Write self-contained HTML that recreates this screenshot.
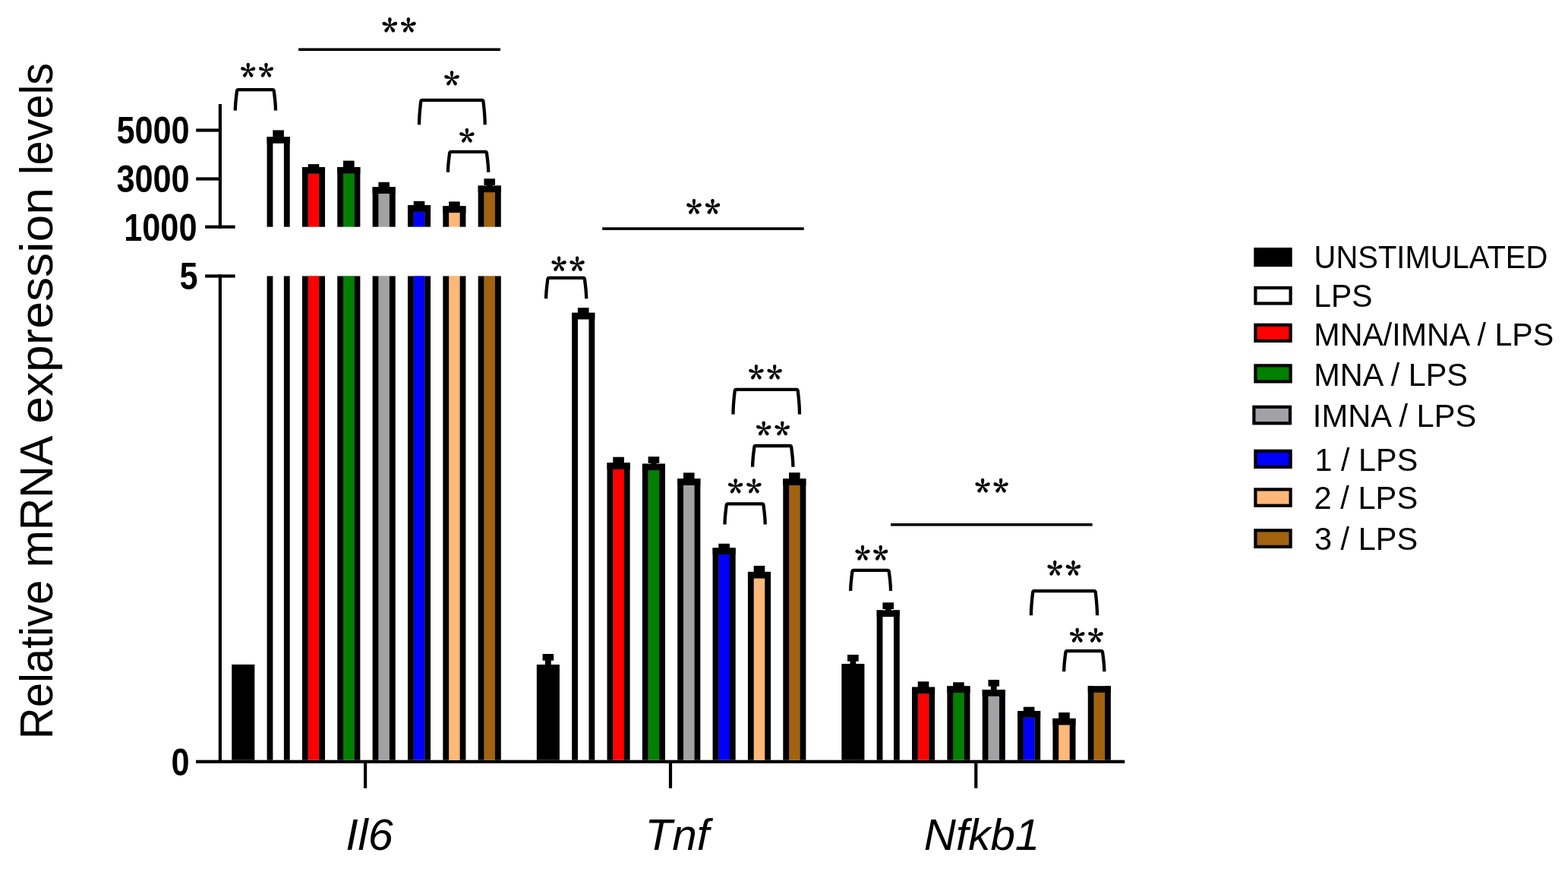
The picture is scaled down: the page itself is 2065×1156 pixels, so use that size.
<!DOCTYPE html>
<html><head><meta charset="utf-8"><title>Relative mRNA expression levels</title>
<style>html,body{margin:0;padding:0;background:#fff;}svg{display:block;}text{fill:#000;}</style>
</head><body>
<svg width="2065" height="1156" viewBox="0 0 2065 1156">
<rect width="2065" height="1156" fill="#fff"/>
<rect x="287.8" y="137" width="4.2" height="163.8" fill="#000"/>
<rect x="287.8" y="361.4" width="4.2" height="643.6" fill="#000"/>
<rect x="258.2" y="169.4" width="31.7" height="4.2" fill="#000"/>
<rect x="258.2" y="233.4" width="31.7" height="4.2" fill="#000"/>
<rect x="270.1" y="296.6" width="39.5" height="4.2" fill="#000"/>
<rect x="270.1" y="361.4" width="39.5" height="4.2" fill="#000"/>
<rect x="258.1" y="1000.7" width="1223.1" height="4.3" fill="#000"/>
<rect x="479" y="1003" width="4.2" height="34.8" fill="#000"/>
<rect x="880.9" y="1003" width="4.2" height="34.8" fill="#000"/>
<rect x="1283.2" y="1003" width="4.2" height="34.8" fill="#000"/>
<rect x="305.22" y="874.9" width="30.1" height="125.8" fill="#000"/>
<rect x="351.57" y="180.1" width="7.8" height="118.6" fill="#000"/>
<rect x="373.88" y="180.1" width="7.8" height="118.6" fill="#000"/>
<rect x="351.57" y="180.1" width="30.1" height="8.7" fill="#000"/>
<rect x="351.57" y="363.5" width="7.8" height="637.2" fill="#000"/>
<rect x="373.88" y="363.5" width="7.8" height="637.2" fill="#000"/>
<rect x="359.32" y="171.4" width="14.6" height="8.7" fill="#000"/>
<rect x="405.53" y="228.6" width="14.9" height="70.1" fill="#ff0000"/>
<rect x="397.93" y="220.1" width="7.8" height="78.6" fill="#000"/>
<rect x="420.23" y="220.1" width="7.8" height="78.6" fill="#000"/>
<rect x="397.93" y="220.1" width="30.1" height="8.7" fill="#000"/>
<rect x="405.53" y="363.3" width="14.9" height="637.4" fill="#ff0000"/>
<rect x="397.93" y="363.5" width="7.8" height="637.2" fill="#000"/>
<rect x="420.23" y="363.5" width="7.8" height="637.2" fill="#000"/>
<rect x="405.68" y="216.1" width="14.6" height="8.7" fill="#000"/>
<rect x="451.88" y="228.5" width="14.9" height="70.2" fill="#008000"/>
<rect x="444.27" y="220" width="7.8" height="78.7" fill="#000"/>
<rect x="466.57" y="220" width="7.8" height="78.7" fill="#000"/>
<rect x="444.27" y="220" width="30.1" height="8.7" fill="#000"/>
<rect x="451.88" y="363.3" width="14.9" height="637.4" fill="#008000"/>
<rect x="444.27" y="363.5" width="7.8" height="637.2" fill="#000"/>
<rect x="466.57" y="363.5" width="7.8" height="637.2" fill="#000"/>
<rect x="452.02" y="211.6" width="14.6" height="8.7" fill="#000"/>
<rect x="498.23" y="254.8" width="14.9" height="43.9" fill="#a2a2a6"/>
<rect x="490.62" y="246.3" width="7.8" height="52.4" fill="#000"/>
<rect x="512.93" y="246.3" width="7.8" height="52.4" fill="#000"/>
<rect x="490.62" y="246.3" width="30.1" height="8.7" fill="#000"/>
<rect x="498.23" y="363.3" width="14.9" height="637.4" fill="#a2a2a6"/>
<rect x="490.62" y="363.5" width="7.8" height="637.2" fill="#000"/>
<rect x="512.93" y="363.5" width="7.8" height="637.2" fill="#000"/>
<rect x="498.38" y="239.8" width="14.6" height="8.7" fill="#000"/>
<rect x="544.57" y="278.7" width="14.9" height="20" fill="#0000ff"/>
<rect x="536.98" y="270.2" width="7.8" height="28.5" fill="#000"/>
<rect x="559.28" y="270.2" width="7.8" height="28.5" fill="#000"/>
<rect x="536.98" y="270.2" width="30.1" height="8.7" fill="#000"/>
<rect x="544.57" y="363.3" width="14.9" height="637.4" fill="#0000ff"/>
<rect x="536.98" y="363.5" width="7.8" height="637.2" fill="#000"/>
<rect x="559.28" y="363.5" width="7.8" height="637.2" fill="#000"/>
<rect x="544.73" y="264.8" width="14.6" height="8.7" fill="#000"/>
<rect x="590.92" y="279.9" width="14.9" height="18.8" fill="#ffb878"/>
<rect x="583.33" y="271.4" width="7.8" height="27.3" fill="#000"/>
<rect x="605.63" y="271.4" width="7.8" height="27.3" fill="#000"/>
<rect x="583.33" y="271.4" width="30.1" height="8.7" fill="#000"/>
<rect x="590.92" y="363.3" width="14.9" height="637.4" fill="#ffb878"/>
<rect x="583.33" y="363.5" width="7.8" height="637.2" fill="#000"/>
<rect x="605.63" y="363.5" width="7.8" height="637.2" fill="#000"/>
<rect x="591.08" y="265.4" width="14.6" height="8.7" fill="#000"/>
<rect x="637.27" y="253" width="14.9" height="45.7" fill="#a2620f"/>
<rect x="629.68" y="244.5" width="7.8" height="54.2" fill="#000"/>
<rect x="651.98" y="244.5" width="7.8" height="54.2" fill="#000"/>
<rect x="629.68" y="244.5" width="30.1" height="8.7" fill="#000"/>
<rect x="637.27" y="363.3" width="14.9" height="637.4" fill="#a2620f"/>
<rect x="629.68" y="363.5" width="7.8" height="637.2" fill="#000"/>
<rect x="651.98" y="363.5" width="7.8" height="637.2" fill="#000"/>
<rect x="637.43" y="235.2" width="14.6" height="8.7" fill="#000"/>
<rect x="640.83" y="243.4" width="7.8" height="1.6" fill="#000"/>
<rect x="706.83" y="875" width="30.1" height="125.7" fill="#000"/>
<rect x="714.58" y="861" width="14.6" height="8.7" fill="#000"/>
<rect x="717.98" y="869.2" width="7.8" height="6.3" fill="#000"/>
<rect x="753.18" y="411.8" width="7.8" height="588.9" fill="#000"/>
<rect x="775.48" y="411.8" width="7.8" height="588.9" fill="#000"/>
<rect x="753.18" y="411.8" width="30.1" height="8.7" fill="#000"/>
<rect x="760.93" y="405.2" width="14.6" height="8.7" fill="#000"/>
<rect x="807.12" y="617.8" width="14.9" height="382.9" fill="#ff0000"/>
<rect x="799.53" y="609.3" width="7.8" height="391.4" fill="#000"/>
<rect x="821.83" y="609.3" width="7.8" height="391.4" fill="#000"/>
<rect x="799.53" y="609.3" width="30.1" height="8.7" fill="#000"/>
<rect x="807.28" y="601.7" width="14.6" height="8.7" fill="#000"/>
<rect x="853.48" y="619.2" width="14.9" height="381.5" fill="#008000"/>
<rect x="845.88" y="610.7" width="7.8" height="390" fill="#000"/>
<rect x="868.18" y="610.7" width="7.8" height="390" fill="#000"/>
<rect x="845.88" y="610.7" width="30.1" height="8.7" fill="#000"/>
<rect x="853.63" y="601.2" width="14.6" height="8.7" fill="#000"/>
<rect x="857.03" y="609.4" width="7.8" height="1.8" fill="#000"/>
<rect x="899.82" y="638.8" width="14.9" height="361.9" fill="#a2a2a6"/>
<rect x="892.23" y="630.3" width="7.8" height="370.4" fill="#000"/>
<rect x="914.53" y="630.3" width="7.8" height="370.4" fill="#000"/>
<rect x="892.23" y="630.3" width="30.1" height="8.7" fill="#000"/>
<rect x="899.98" y="622.4" width="14.6" height="8.7" fill="#000"/>
<rect x="946.17" y="729.9" width="14.9" height="270.8" fill="#0000ff"/>
<rect x="938.58" y="721.4" width="7.8" height="279.3" fill="#000"/>
<rect x="960.88" y="721.4" width="7.8" height="279.3" fill="#000"/>
<rect x="938.58" y="721.4" width="30.1" height="8.7" fill="#000"/>
<rect x="946.33" y="715.8" width="14.6" height="8.7" fill="#000"/>
<rect x="992.52" y="761.4" width="14.9" height="239.3" fill="#ffb878"/>
<rect x="984.93" y="752.9" width="7.8" height="247.8" fill="#000"/>
<rect x="1007.23" y="752.9" width="7.8" height="247.8" fill="#000"/>
<rect x="984.93" y="752.9" width="30.1" height="8.7" fill="#000"/>
<rect x="992.68" y="744.9" width="14.6" height="8.7" fill="#000"/>
<rect x="1038.88" y="638.8" width="14.9" height="361.9" fill="#a2620f"/>
<rect x="1031.28" y="630.3" width="7.8" height="370.4" fill="#000"/>
<rect x="1053.58" y="630.3" width="7.8" height="370.4" fill="#000"/>
<rect x="1031.28" y="630.3" width="30.1" height="8.7" fill="#000"/>
<rect x="1039.03" y="622.2" width="14.6" height="8.7" fill="#000"/>
<rect x="1108.33" y="874" width="30.1" height="126.7" fill="#000"/>
<rect x="1116.08" y="862" width="14.6" height="8.7" fill="#000"/>
<rect x="1119.47" y="870.2" width="7.8" height="4.3" fill="#000"/>
<rect x="1154.67" y="803.4" width="7.8" height="197.3" fill="#000"/>
<rect x="1176.97" y="803.4" width="7.8" height="197.3" fill="#000"/>
<rect x="1154.67" y="803.4" width="30.1" height="8.7" fill="#000"/>
<rect x="1162.42" y="793.3" width="14.6" height="8.7" fill="#000"/>
<rect x="1165.82" y="801.5" width="7.8" height="2.4" fill="#000"/>
<rect x="1208.62" y="913.2" width="14.9" height="87.5" fill="#ff0000"/>
<rect x="1201.02" y="904.7" width="7.8" height="96" fill="#000"/>
<rect x="1223.32" y="904.7" width="7.8" height="96" fill="#000"/>
<rect x="1201.02" y="904.7" width="30.1" height="8.7" fill="#000"/>
<rect x="1208.77" y="897.3" width="14.6" height="8.7" fill="#000"/>
<rect x="1254.97" y="911.9" width="14.9" height="88.8" fill="#008000"/>
<rect x="1247.38" y="903.4" width="7.8" height="97.3" fill="#000"/>
<rect x="1269.67" y="903.4" width="7.8" height="97.3" fill="#000"/>
<rect x="1247.38" y="903.4" width="30.1" height="8.7" fill="#000"/>
<rect x="1255.12" y="898.3" width="14.6" height="8.7" fill="#000"/>
<rect x="1301.32" y="916.6" width="14.9" height="84.1" fill="#a2a2a6"/>
<rect x="1293.72" y="908.1" width="7.8" height="92.6" fill="#000"/>
<rect x="1316.02" y="908.1" width="7.8" height="92.6" fill="#000"/>
<rect x="1293.72" y="908.1" width="30.1" height="8.7" fill="#000"/>
<rect x="1301.47" y="895" width="14.6" height="8.7" fill="#000"/>
<rect x="1304.87" y="903.2" width="7.8" height="5.4" fill="#000"/>
<rect x="1347.67" y="944.6" width="14.9" height="56.1" fill="#0000ff"/>
<rect x="1340.08" y="936.1" width="7.8" height="64.6" fill="#000"/>
<rect x="1362.38" y="936.1" width="7.8" height="64.6" fill="#000"/>
<rect x="1340.08" y="936.1" width="30.1" height="8.7" fill="#000"/>
<rect x="1347.83" y="930.7" width="14.6" height="8.7" fill="#000"/>
<rect x="1394.02" y="954.4" width="14.9" height="46.3" fill="#ffb878"/>
<rect x="1386.42" y="945.9" width="7.8" height="54.8" fill="#000"/>
<rect x="1408.72" y="945.9" width="7.8" height="54.8" fill="#000"/>
<rect x="1386.42" y="945.9" width="30.1" height="8.7" fill="#000"/>
<rect x="1394.17" y="938.1" width="14.6" height="8.7" fill="#000"/>
<rect x="1440.37" y="911.7" width="14.9" height="89" fill="#a2620f"/>
<rect x="1432.77" y="903.2" width="7.8" height="97.5" fill="#000"/>
<rect x="1455.07" y="903.2" width="7.8" height="97.5" fill="#000"/>
<rect x="1432.77" y="903.2" width="30.1" height="8.7" fill="#000"/>
<path d="M309.8,145.6 C309.8,135.6 311.4,125.1 312,120.1 Q312.2,118.1 313.8,118.1 L359,118.1 Q360.6,118.1 360.8,120.1 C361.4,125.1 363,135.6 363,145.6" fill="none" stroke="#000" stroke-width="4.3"/>
<path d="M552,164.2 C552,154.2 553.6,138.9 554.2,133.9 Q554.4,131.9 556,131.9 L634.7,131.9 Q636.3,131.9 636.5,133.9 C637.1,138.9 638.7,154.2 638.7,164.2" fill="none" stroke="#000" stroke-width="4.3"/>
<path d="M589.9,226.7 C589.9,216.7 591.5,206.8 592.1,201.8 Q592.3,199.8 593.9,199.8 L639.2,199.8 Q640.8,199.8 641,201.8 C641.6,206.8 643.2,216.7 643.2,226.7" fill="none" stroke="#000" stroke-width="4.3"/>
<path d="M719.1,393.3 C719.1,383.3 720.7,372.9 721.3,367.9 Q721.5,365.9 723.1,365.9 L768.2,365.9 Q769.8,365.9 770,367.9 C770.6,372.9 772.2,383.3 772.2,393.3" fill="none" stroke="#000" stroke-width="4.3"/>
<path d="M965.5,545.5 C965.5,535.5 967.1,519.9 967.7,514.9 Q967.9,512.9 969.5,512.9 L1049,512.9 Q1050.6,512.9 1050.8,514.9 C1051.4,519.9 1053,535.5 1053,545.5" fill="none" stroke="#000" stroke-width="4.3"/>
<path d="M991.1,614.7 C991.1,604.7 992.7,594 993.3,589 Q993.5,587 995.1,587 L1040.4,587 Q1042,587 1042.2,589 C1042.8,594 1044.4,604.7 1044.4,614.7" fill="none" stroke="#000" stroke-width="4.3"/>
<path d="M954.5,690.5 C954.5,680.5 956.1,670.3 956.7,665.3 Q956.9,663.3 958.5,663.3 L1003.7,663.3 Q1005.3,663.3 1005.5,665.3 C1006.1,670.3 1007.7,680.5 1007.7,690.5" fill="none" stroke="#000" stroke-width="4.3"/>
<path d="M1120.2,778 C1120.2,768 1121.8,757.8 1122.4,752.8 Q1122.6,750.8 1124.2,750.8 L1169,750.8 Q1170.6,750.8 1170.8,752.8 C1171.4,757.8 1173,768 1173,778" fill="none" stroke="#000" stroke-width="4.3"/>
<path d="M1357.9,810.3 C1357.9,800.3 1359.5,785.2 1360.1,780.2 Q1360.3,778.2 1361.9,778.2 L1441,778.2 Q1442.6,778.2 1442.8,780.2 C1443.4,785.2 1445,800.3 1445,810.3" fill="none" stroke="#000" stroke-width="4.3"/>
<path d="M1401.2,884.2 C1401.2,874.2 1402.8,864.1 1403.4,859.1 Q1403.6,857.1 1405.2,857.1 L1450.3,857.1 Q1451.9,857.1 1452.1,859.1 C1452.7,864.1 1454.3,874.2 1454.3,884.2" fill="none" stroke="#000" stroke-width="4.3"/>
<rect x="393.1" y="63.4" width="265.9" height="3.6" fill="#000"/>
<rect x="793.2" y="299.3" width="265.5" height="3.6" fill="#000"/>
<rect x="1173.1" y="689" width="265.5" height="3.6" fill="#000"/>
<rect x="1651.3" y="326" width="50.4" height="25.2" fill="#000"/>
<rect x="1651.3" y="376.9" width="50.4" height="24.7" fill="#000"/>
<rect x="1655.5" y="381.1" width="42" height="16.3" fill="#ffffff"/>
<rect x="1651.3" y="425.7" width="50.4" height="25.3" fill="#000"/>
<rect x="1655.5" y="429.9" width="42" height="16.9" fill="#ff0000"/>
<rect x="1651.3" y="479.2" width="50.4" height="25.3" fill="#000"/>
<rect x="1655.5" y="483.4" width="42" height="16.9" fill="#008000"/>
<rect x="1649.3" y="533.7" width="51.8" height="25.7" fill="#000"/>
<rect x="1653.5" y="537.9" width="43.4" height="17.3" fill="#a2a2a6"/>
<rect x="1651.3" y="591.7" width="50.4" height="25.3" fill="#000"/>
<rect x="1655.5" y="595.9" width="42" height="16.9" fill="#0000ff"/>
<rect x="1651.3" y="642.3" width="50.4" height="25.5" fill="#000"/>
<rect x="1655.5" y="646.5" width="42" height="17.1" fill="#ffb878"/>
<rect x="1651.3" y="696.2" width="50.4" height="25.8" fill="#000"/>
<rect x="1655.5" y="700.4" width="42" height="17.4" fill="#a2620f"/>
<text transform="translate(316.68,117.83) scale(0.9761,1)" font-size="42.09" style="font-family:'Noto Serif CJK SC','Liberation Serif',serif;font-weight:bold;font-style:normal;stroke:#000;stroke-width:0.6px;stroke-linejoin:round;">*</text>
<text transform="translate(340.49,117.83) scale(0.9761,1)" font-size="42.09" style="font-family:'Noto Serif CJK SC','Liberation Serif',serif;font-weight:bold;font-style:normal;stroke:#000;stroke-width:0.6px;stroke-linejoin:round;">*</text>
<text transform="translate(502.95,59.09) scale(0.9818,1)" font-size="43.26" style="font-family:'Noto Serif CJK SC','Liberation Serif',serif;font-weight:bold;font-style:normal;stroke:#000;stroke-width:0.6px;stroke-linejoin:round;">*</text>
<text transform="translate(527.54,59.09) scale(0.9818,1)" font-size="43.26" style="font-family:'Noto Serif CJK SC','Liberation Serif',serif;font-weight:bold;font-style:normal;stroke:#000;stroke-width:0.6px;stroke-linejoin:round;">*</text>
<text transform="translate(584.86,128.7) scale(0.9867,1)" font-size="42.79" style="font-family:'Noto Serif CJK SC','Liberation Serif',serif;font-weight:bold;font-style:normal;stroke:#000;stroke-width:0.6px;stroke-linejoin:round;">*</text>
<text transform="translate(604.76,204.33) scale(0.9925,1)" font-size="42.09" style="font-family:'Noto Serif CJK SC','Liberation Serif',serif;font-weight:bold;font-style:normal;stroke:#000;stroke-width:0.6px;stroke-linejoin:round;">*</text>
<text transform="translate(903.76,298.74) scale(0.9423,1)" font-size="44.65" style="font-family:'Noto Serif CJK SC','Liberation Serif',serif;font-weight:bold;font-style:normal;stroke:#000;stroke-width:0.6px;stroke-linejoin:round;">*</text>
<text transform="translate(928.13,298.74) scale(0.9423,1)" font-size="44.65" style="font-family:'Noto Serif CJK SC','Liberation Serif',serif;font-weight:bold;font-style:normal;stroke:#000;stroke-width:0.6px;stroke-linejoin:round;">*</text>
<text transform="translate(725.97,373.98) scale(0.9561,1)" font-size="43.49" style="font-family:'Noto Serif CJK SC','Liberation Serif',serif;font-weight:bold;font-style:normal;stroke:#000;stroke-width:0.6px;stroke-linejoin:round;">*</text>
<text transform="translate(750.06,373.98) scale(0.9561,1)" font-size="43.49" style="font-family:'Noto Serif CJK SC','Liberation Serif',serif;font-weight:bold;font-style:normal;stroke:#000;stroke-width:0.6px;stroke-linejoin:round;">*</text>
<text transform="translate(985.86,516.19) scale(0.9711,1)" font-size="43.02" style="font-family:'Noto Serif CJK SC','Liberation Serif',serif;font-weight:bold;font-style:normal;stroke:#000;stroke-width:0.6px;stroke-linejoin:round;">*</text>
<text transform="translate(1010.06,516.19) scale(0.9711,1)" font-size="43.02" style="font-family:'Noto Serif CJK SC','Liberation Serif',serif;font-weight:bold;font-style:normal;stroke:#000;stroke-width:0.6px;stroke-linejoin:round;">*</text>
<text transform="translate(995.56,589.61) scale(0.9886,1)" font-size="42.56" style="font-family:'Noto Serif CJK SC','Liberation Serif',serif;font-weight:bold;font-style:normal;stroke:#000;stroke-width:0.6px;stroke-linejoin:round;">*</text>
<text transform="translate(1019.93,589.61) scale(0.9886,1)" font-size="42.56" style="font-family:'Noto Serif CJK SC','Liberation Serif',serif;font-weight:bold;font-style:normal;stroke:#000;stroke-width:0.6px;stroke-linejoin:round;">*</text>
<text transform="translate(958.46,665.6) scale(0.9763,1)" font-size="42.79" style="font-family:'Noto Serif CJK SC','Liberation Serif',serif;font-weight:bold;font-style:normal;stroke:#000;stroke-width:0.6px;stroke-linejoin:round;">*</text>
<text transform="translate(982.66,665.6) scale(0.9763,1)" font-size="42.79" style="font-family:'Noto Serif CJK SC','Liberation Serif',serif;font-weight:bold;font-style:normal;stroke:#000;stroke-width:0.6px;stroke-linejoin:round;">*</text>
<text transform="translate(1284.07,665.23) scale(0.9909,1)" font-size="41.86" style="font-family:'Noto Serif CJK SC','Liberation Serif',serif;font-weight:bold;font-style:normal;stroke:#000;stroke-width:0.6px;stroke-linejoin:round;">*</text>
<text transform="translate(1308.1,665.23) scale(0.9909,1)" font-size="41.86" style="font-family:'Noto Serif CJK SC','Liberation Serif',serif;font-weight:bold;font-style:normal;stroke:#000;stroke-width:0.6px;stroke-linejoin:round;">*</text>
<text transform="translate(1125.98,754.65) scale(0.9272,1)" font-size="44.42" style="font-family:'Noto Serif CJK SC','Liberation Serif',serif;font-weight:bold;font-style:normal;stroke:#000;stroke-width:0.6px;stroke-linejoin:round;">*</text>
<text transform="translate(1149.84,754.65) scale(0.9272,1)" font-size="44.42" style="font-family:'Noto Serif CJK SC','Liberation Serif',serif;font-weight:bold;font-style:normal;stroke:#000;stroke-width:0.6px;stroke-linejoin:round;">*</text>
<text transform="translate(1378.96,774.85) scale(0.9472,1)" font-size="44.42" style="font-family:'Noto Serif CJK SC','Liberation Serif',serif;font-weight:bold;font-style:normal;stroke:#000;stroke-width:0.6px;stroke-linejoin:round;">*</text>
<text transform="translate(1403.33,774.85) scale(0.9472,1)" font-size="44.42" style="font-family:'Noto Serif CJK SC','Liberation Serif',serif;font-weight:bold;font-style:normal;stroke:#000;stroke-width:0.6px;stroke-linejoin:round;">*</text>
<text transform="translate(1408.46,861.82) scale(0.9941,1)" font-size="42.33" style="font-family:'Noto Serif CJK SC','Liberation Serif',serif;font-weight:bold;font-style:normal;stroke:#000;stroke-width:0.6px;stroke-linejoin:round;">*</text>
<text transform="translate(1432.83,861.82) scale(0.9941,1)" font-size="42.33" style="font-family:'Noto Serif CJK SC','Liberation Serif',serif;font-weight:bold;font-style:normal;stroke:#000;stroke-width:0.6px;stroke-linejoin:round;">*</text>
<text transform="translate(153.42,188.98) scale(0.8640,1)" font-size="50.1" style="font-family:'Liberation Sans',Arial,sans-serif;font-weight:bold;font-style:normal;">5000</text>
<text transform="translate(153.42,253.38) scale(0.8640,1)" font-size="50.1" style="font-family:'Liberation Sans',Arial,sans-serif;font-weight:bold;font-style:normal;">3000</text>
<text transform="translate(163.22,316.63) scale(0.8640,1)" font-size="50.1" style="font-family:'Liberation Sans',Arial,sans-serif;font-weight:bold;font-style:normal;">1000</text>
<text transform="translate(236.46,380.53) scale(0.8640,1)" font-size="50.1" style="font-family:'Liberation Sans',Arial,sans-serif;font-weight:bold;font-style:normal;">5</text>
<text transform="translate(225.51,1020.98) scale(0.8640,1)" font-size="50.1" style="font-family:'Liberation Sans',Arial,sans-serif;font-weight:bold;font-style:normal;">0</text>
<text transform="translate(455.13,1118.78) scale(1.0226,1)" font-size="58" style="font-family:'Liberation Sans',Arial,sans-serif;font-weight:normal;font-style:italic;">Il6</text>
<text transform="translate(849.43,1119.08) scale(1.0093,1)" font-size="58" style="font-family:'Liberation Sans',Arial,sans-serif;font-weight:normal;font-style:italic;">Tnf</text>
<text transform="translate(1216.85,1118.58) scale(1.0062,1)" font-size="58" style="font-family:'Liberation Sans',Arial,sans-serif;font-weight:normal;font-style:italic;">Nfkb1</text>
<text transform="translate(1730.6,352.91) scale(0.9534,1)" font-size="41.9" style="font-family:'Liberation Sans',Arial,sans-serif;font-weight:normal;font-style:normal;">UNSTIMULATED</text>
<text transform="translate(1730.33,403.91) scale(0.9749,1)" font-size="41.9" style="font-family:'Liberation Sans',Arial,sans-serif;font-weight:normal;font-style:normal;">LPS</text>
<text transform="translate(1730.3,454.63) scale(0.9838,1)" font-size="41.9" style="font-family:'Liberation Sans',Arial,sans-serif;font-weight:normal;font-style:normal;">MNA/IMNA / LPS</text>
<text transform="translate(1730.28,507.63) scale(0.9897,1)" font-size="41.9" style="font-family:'Liberation Sans',Arial,sans-serif;font-weight:normal;font-style:normal;">MNA / LPS</text>
<text transform="translate(1728.84,562.03) scale(0.9959,1)" font-size="41.9" style="font-family:'Liberation Sans',Arial,sans-serif;font-weight:normal;font-style:normal;">IMNA / LPS</text>
<text transform="translate(1731.6,619.63) scale(0.9871,1)" font-size="41.9" style="font-family:'Liberation Sans',Arial,sans-serif;font-weight:normal;font-style:normal;">1 / LPS</text>
<text transform="translate(1730.52,670.23) scale(0.9951,1)" font-size="41.9" style="font-family:'Liberation Sans',Arial,sans-serif;font-weight:normal;font-style:normal;">2 / LPS</text>
<text transform="translate(1730.94,724.08) scale(0.9920,1)" font-size="41.9" style="font-family:'Liberation Sans',Arial,sans-serif;font-weight:normal;font-style:normal;">3 / LPS</text>
<text transform="translate(68.9,973.14) rotate(-90) scale(0.9568,1)" font-size="60.58" style="font-family:'Liberation Sans',Arial,sans-serif;font-weight:normal;font-style:normal;">Relative</text>
<text transform="translate(68.9,747.33) rotate(-90) scale(0.9732,1)" font-size="60.58" style="font-family:'Liberation Sans',Arial,sans-serif;font-weight:normal;font-style:normal;">mRNA</text>
<text transform="translate(68.9,557.79) rotate(-90) scale(1.0610,1)" font-size="60.58" style="font-family:'Liberation Sans',Arial,sans-serif;font-weight:normal;font-style:normal;">expression</text>
<text transform="translate(68.9,230.35) rotate(-90) scale(0.9528,1)" font-size="60.58" style="font-family:'Liberation Sans',Arial,sans-serif;font-weight:normal;font-style:normal;">levels</text>
</svg>
</body></html>
